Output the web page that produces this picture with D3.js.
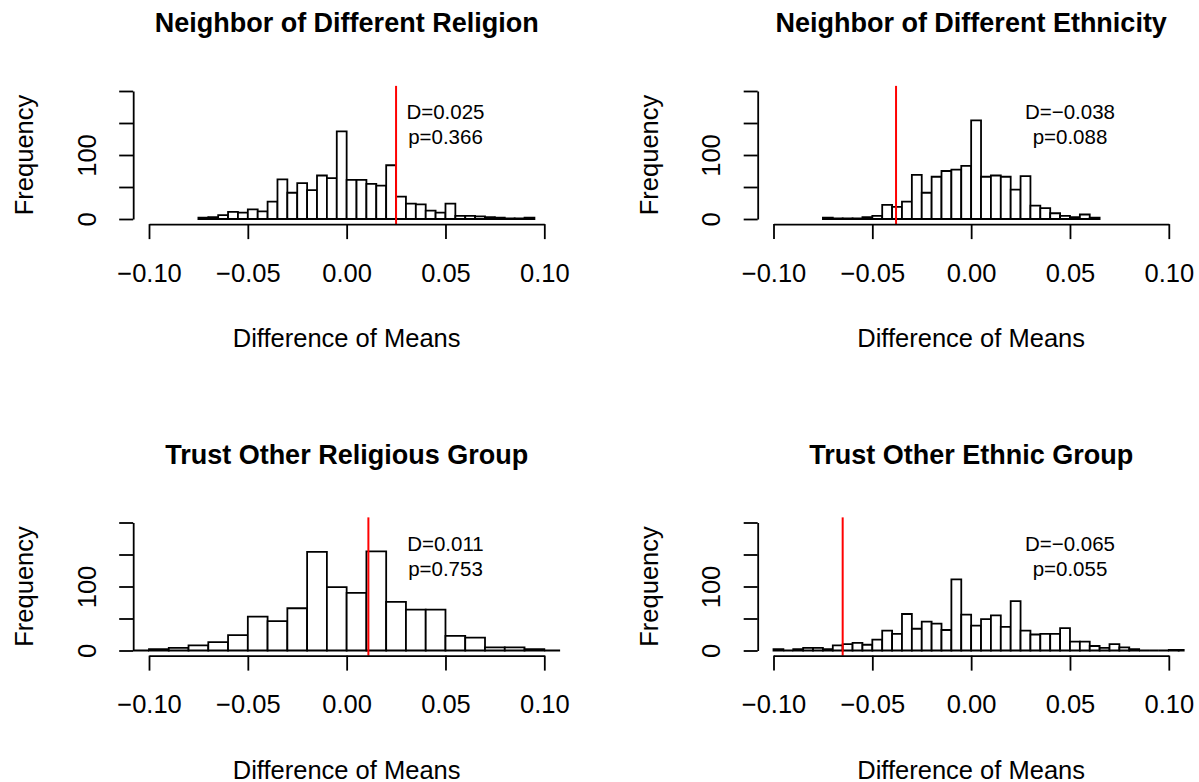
<!DOCTYPE html>
<html>
<head>
<meta charset="utf-8">
<script src="https://cdn.jsdelivr.net/npm/d3@7/dist/d3.min.js"></script>
<style>
  html, body { margin: 0; padding: 0; background: #fff; }
  svg { display: block; font-family: "Liberation Sans", Arial, Helvetica, sans-serif; }
</style>
</head>
<body>
<svg id="chart" width="1199" height="782"></svg>
<script>
// Permutation distributions of the difference of means, one panel each
const panelTitles = [
  "Neighbor of Different Religion",
  "Neighbor of Different Ethnicity",
  "Trust Other Religious Group",
  "Trust Other Ethnic Group"
];

// Histogram bins: first break and bin width for each panel
const binStarts = [-0.075, -0.075, -0.11, -0.10];
const binWidths = [0.005, 0.005, 0.01, 0.005];

// Bin counts (frequency) for each panel
const countsNeighborReligion = [2, 3, 6, 11, 10, 15, 12, 27, 62, 41, 56, 45, 68, 64, 137, 61, 61, 55, 52, 84, 35, 24, 23, 13, 10, 24, 5, 5, 4, 3, 2, 1, 1, 2];
const countsNeighborEthnicity = [2, 1, 1, 1, 3, 5, 22, 19, 27, 69, 41, 66, 75, 77, 83, 154, 66, 68, 66, 46, 67, 21, 17, 9, 5, 3, 7, 2];
const countsTrustReligious = [0, 2, 4, 8, 13, 24, 53, 46, 66, 154, 99, 90, 155, 76, 64, 64, 23, 20, 5, 5, 2, 0];
const countsTrustEthnic = [2, 0, 2, 4, 4, 2, 8, 10, 12, 9, 17, 31, 26, 57, 34, 45, 42, 32, 111, 56, 39, 49, 55, 37, 77, 31, 25, 26, 26, 35, 14, 14, 7, 4, 10, 5, 2, 0, 0, 0, 1, 1];
const panelCounts = [countsNeighborReligion, countsNeighborEthnicity, countsTrustReligious, countsTrustEthnic];

// Observed differences and permutation p-values
const observedD = [0.025, -0.038, 0.011, -0.065];
const observedLabels = ["D=0.025", "D=\u22120.038", "D=0.011", "D=\u22120.065"];
const pLabels = ["p=0.366", "p=0.088", "p=0.753", "p=0.055"];

// Axis ticks
const xTicks = [-0.10, -0.05, 0.00, 0.05, 0.10];
const yTicks = [0, 50, 100, 150, 200];
const yTickLabelsShown = [0, 100];

// Panel placement on the page
const panelOffsets = [[0, 0], [624.5, 0], [0, 431.5], [624.5, 431.5]];

const svg = d3.select("#chart");
const fmtX = d3.format(".2f");
const labelFont = 25.5;

panelOffsets.forEach(([ox, oy], i) => {
  const x = d3.scaleLinear().domain([-0.1, 0.1]).range([149 + ox, 544.3 + ox]);
  const y = d3.scaleLinear().domain([0, 200]).range([219 + oy, 91 + oy]);

  // plotting region = axis limits padded by 4%
  const left = x(-0.108), right = x(0.108);
  const top = y(208), bottom = y(-8);

  const clipId = "clip" + i;
  svg.append("clipPath").attr("id", clipId)
    .append("rect")
    .attr("x", left).attr("y", top)
    .attr("width", right - left).attr("height", bottom - top);

  const g = svg.append("g");

  // histogram bars
  const counts = panelCounts[i];
  const bins = counts.map((c, k) => ({
    x0: binStarts[i] + k * binWidths[i],
    x1: binStarts[i] + (k + 1) * binWidths[i],
    n: c
  }));
  g.append("g").attr("clip-path", `url(#${clipId})`)
    .selectAll("path")
    .data(bins)
    .join("path")
    .attr("d", b => `M${x(b.x0)},${y(0)}V${y(b.n)}H${x(b.x1)}V${y(0)}Z`)
    .attr("fill", "#fff")
    .attr("stroke", "#000")
    .attr("stroke-width", 1.8);

  // observed statistic
  g.append("line")
    .attr("x1", x(observedD[i])).attr("x2", x(observedD[i]))
    .attr("y1", top).attr("y2", bottom)
    .attr("stroke", "#ff0000")
    .attr("stroke-width", 2);

  // annotation
  const ann = g.append("text")
    .attr("text-anchor", "middle")
    .attr("font-size", 20.5)
    .attr("fill", "#000");
  ann.append("tspan").attr("x", x(0.05)).attr("y", y(150) - 4).text(observedLabels[i]);
  ann.append("tspan").attr("x", x(0.05)).attr("y", y(150) + 21).text(pLabels[i]);

  // x axis
  const xAxis = g.append("g")
    .attr("transform", `translate(0,${bottom})`)
    .call(d3.axisBottom(x).tickValues(xTicks).tickSize(15).tickSizeOuter(0).tickFormat(fmtX));
  xAxis.select(".domain").attr("stroke-width", 1.8);
  xAxis.selectAll(".tick line").attr("stroke-width", 1.8);
  xAxis.selectAll(".tick text")
    .attr("y", 57.4).attr("dy", 0)
    .attr("font-size", labelFont)
    .attr("font-family", null)
    .attr("fill", "#000");

  // y axis
  const yAxis = g.append("g")
    .attr("transform", `translate(${left},0)`)
    .call(d3.axisLeft(y).tickValues(yTicks).tickSize(14).tickSizeOuter(0)
      .tickFormat(d => yTickLabelsShown.includes(d) ? String(d) : ""));
  yAxis.select(".domain").attr("stroke-width", 1.8);
  yAxis.selectAll(".tick line").attr("stroke-width", 1.8);
  yAxis.selectAll(".tick text")
    .attr("transform", "rotate(-90)")
    .attr("x", 0).attr("y", -37.5).attr("dy", 0)
    .attr("text-anchor", "middle")
    .attr("font-size", labelFont)
    .attr("font-family", null)
    .attr("fill", "#000");

  // titles and axis labels
  g.append("text")
    .attr("x", x(0)).attr("y", 32 + oy)
    .attr("text-anchor", "middle")
    .attr("font-size", 27)
    .attr("font-weight", "bold")
    .text(panelTitles[i]);

  g.append("text")
    .attr("x", x(0)).attr("y", 347 + oy)
    .attr("text-anchor", "middle")
    .attr("font-size", labelFont)
    .text("Difference of Means");

  g.append("text")
    .attr("transform", `translate(${33 + ox},${(top + bottom) / 2}) rotate(-90)`)
    .attr("text-anchor", "middle")
    .attr("font-size", labelFont)
    .text("Frequency");
});
</script>
</body>
</html>
